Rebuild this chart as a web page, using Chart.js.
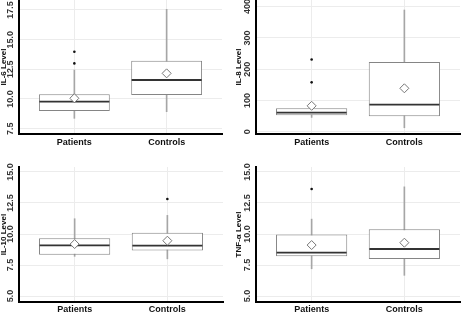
<!DOCTYPE html>
<html>
<head>
<meta charset="utf-8">
<script src="https://cdn.jsdelivr.net/npm/chart.js@4/dist/chart.umd.min.js"></script>
<style>
    html, body { margin: 0; padding: 0; background: #fff; }
    #wrap { position: relative; width: 464px; height: 316px; }
    .panel { position: absolute; width: 232px; height: 158px; }
</style>
</head>
<body>
<div id="wrap">
    <div class="panel" style="left:0;top:0"><canvas id="il6" width="232" height="158"></canvas></div>
    <div class="panel" style="left:232px;top:0"><canvas id="il8" width="232" height="158"></canvas></div>
    <div class="panel" style="left:0;top:158px"><canvas id="il10" width="232" height="158"></canvas></div>
    <div class="panel" style="left:232px;top:158px"><canvas id="tnf" width="232" height="158"></canvas></div>
</div>
<script>
var categories = ['Patients', 'Controls'];

// IL-6
var il6Low = [8.37, 8.93];
var il6Q1 = [8.99, 10.34];
var il6Median = [9.77, 11.6];
var il6Q3 = [10.4, 13.23];
var il6High = [12.44, 17.55];
var il6Mean = [10.06, 12.16];
var il6OutlierGroup = ['Patients', 'Patients'];
var il6OutlierValue = [13.0, 13.98];
var il6Ticks = ['7.5', '10.0', '12.5', '15.0', '17.5'];

// IL-8
var il8Low = [46, 13];
var il8Q1 = [53, 50];
var il8Median = [61, 87];
var il8Q3 = [75, 223];
var il8High = [85, 389];
var il8Mean = [83, 139];
var il8OutlierGroup = ['Patients', 'Patients'];
var il8OutlierValue = [158, 231];
var il8Ticks = ['0', '100', '200', '300', '400'];

// IL-10
var il10Low = [8.2, 8.0];
var il10Q1 = [8.33, 8.68];
var il10Median = [9.09, 9.06];
var il10Q3 = [9.65, 10.1];
var il10High = [11.23, 11.5];
var il10Mean = [9.19, 9.46];
var il10OutlierGroup = ['Controls'];
var il10OutlierValue = [12.82];
var il10Ticks = ['5.0', '7.5', '10.0', '12.5', '15.0'];

// TNF-a
var tnfLow = [7.2, 6.67];
var tnfQ1 = [8.2, 7.98];
var tnfMedian = [8.5, 8.79];
var tnfQ3 = [9.97, 10.38];
var tnfHigh = [11.2, 13.8];
var tnfMean = [9.11, 9.3];
var tnfOutlierGroup = ['Patients'];
var tnfOutlierValue = [13.63];
var tnfTicks = ['5.0', '7.5', '10.0', '12.5', '15.0'];

Chart.defaults.font.family = '"Liberation Sans", Arial, sans-serif';

/**
 * Draws the y tick labels turned a quarter, reading upwards.
 */
var rotatedTicks = {
    id: 'rotatedTicks',
    afterDraw: function(chart, args, options) {
        var scale = chart.scales.y,
            ctx = chart.ctx;

        ctx.save();
        ctx.font = 'bold 9px "Liberation Sans", Arial, sans-serif';
        ctx.fillStyle = '#333';
        ctx.textAlign = 'center';
        ctx.textBaseline = 'middle';
        scale.ticks.forEach(function(tick, i) {
            ctx.save();
            ctx.translate(chart.chartArea.left - 8, scale.getPixelForValue(tick.value));
            ctx.rotate(-Math.PI / 2);
            ctx.fillText(options.labels[i], 0, 0);
            ctx.restore();
        });
        ctx.restore();
    }
};

function points(values) {
    return values.map(function(v, i) { return {x: i + 1, y: v}; });
}

function ranges(from, to) {
    return from.map(function(v, i) { return {x: i + 1, y: [v, to[i]]}; });
}

/**
 * One box plot panel.
 */
function boxPanel(id, s) {
    var outliers = s.outGroup.map(function(g, i) {
        return {x: categories.indexOf(g) + 1, y: s.outValue[i]};
    });

    return new Chart(document.getElementById(id), {
        type: 'bar',
        data: {
            datasets: [{
                data: ranges(s.low, s.high),
                backgroundColor: '#a6a6a6',
                barThickness: 1,
                grouped: false,
                order: 5
            }, {
                data: ranges(s.q1, s.q3),
                backgroundColor: '#fff',
                borderColor: '#858585',
                borderWidth: 1,
                borderSkipped: false,
                categoryPercentage: 0.8,
                barPercentage: 0.96,
                grouped: false,
                order: 4
            }, {
                type: 'line',
                data: points(s.median),
                showLine: false,
                pointStyle: 'line',
                pointRadius: 35,
                pointBorderColor: '#333',
                pointBorderWidth: 1.8,
                order: 3
            }, {
                type: 'line',
                data: points(s.mean),
                showLine: false,
                pointStyle: 'rectRot',
                pointRadius: 4.5,
                pointBackgroundColor: '#fff',
                pointBorderColor: '#777',
                pointBorderWidth: 1,
                order: 2
            }, {
                type: 'line',
                data: outliers,
                showLine: false,
                pointStyle: 'circle',
                pointRadius: 1.3,
                pointBackgroundColor: '#111',
                pointBorderColor: '#111',
                pointBorderWidth: 0,
                order: 1
            }]
        },
        options: {
            responsive: false,
            animation: false,
            events: [],
            layout: {padding: s.padding, autoPadding: false},
            plugins: {
                legend: {display: false},
                tooltip: {enabled: false},
                rotatedTicks: {labels: s.ticks}
            },
            scales: {
                x: {
                    type: 'linear',
                    min: 0.4,
                    max: 2.6,
                    offset: false,
                    afterBuildTicks: function(scale) {
                        scale.ticks = categories.map(function(c, i) { return {value: i + 1}; });
                    },
                    afterFit: function(scale) { scale.height = s.xHeight; },
                    grid: {color: '#ececec', offset: false, drawTicks: false},
                    border: {color: '#000', width: 2},
                    ticks: {
                        padding: s.xPad,
                        color: '#111',
                        font: {size: 9, weight: 'bold'},
                        callback: function(v) { return categories[v - 1]; }
                    }
                },
                y: {
                    type: 'linear',
                    min: s.min,
                    max: s.max,
                    afterBuildTicks: function(scale) {
                        scale.ticks = s.ticks.map(function(t) { return {value: parseFloat(t)}; });
                    },
                    afterFit: function(scale) { scale.width = s.yWidth; },
                    grid: {color: '#ececec', drawTicks: false},
                    border: {color: '#000', width: 2},
                    ticks: {display: false},
                    title: {
                        display: true,
                        text: s.title,
                        color: '#111',
                        padding: 0,
                        font: {size: 8, weight: 'bold', lineHeight: 1}
                    }
                }
            }
        },
        plugins: [rotatedTicks]
    });
}

boxPanel('il6', {
    title: 'IL-6 Level', low: il6Low, q1: il6Q1, median: il6Median, q3: il6Q3, high: il6High,
    mean: il6Mean, outGroup: il6OutlierGroup, outValue: il6OutlierValue, ticks: il6Ticks,
    min: 7.05, max: 18.34,
    padding: {left: 0, right: 10, top: 0, bottom: 0}, yWidth: 19, xHeight: 24, xPad: 3
});

boxPanel('il8', {
    title: 'IL-8 Level', low: il8Low, q1: il8Q1, median: il8Median, q3: il8Q3, high: il8High,
    mean: il8Mean, outGroup: il8OutlierGroup, outValue: il8OutlierValue, ticks: il8Ticks,
    min: -7, max: 421,
    padding: {left: 3, right: 4, top: 0, bottom: 0}, yWidth: 21, xHeight: 24, xPad: 3
});

boxPanel('il10', {
    title: 'IL-10 Level', low: il10Low, q1: il10Q1, median: il10Median, q3: il10Q3, high: il10High,
    mean: il10Mean, outGroup: il10OutlierGroup, outValue: il10OutlierValue, ticks: il10Ticks,
    min: 4.52, max: 15.4,
    padding: {left: 0, right: 9, top: 9, bottom: 0}, yWidth: 19, xHeight: 14, xPad: 2
});

boxPanel('tnf', {
    title: 'TNF-α Level', low: tnfLow, q1: tnfQ1, median: tnfMedian, q3: tnfQ3, high: tnfHigh,
    mean: tnfMean, outGroup: tnfOutlierGroup, outValue: tnfOutlierValue, ticks: tnfTicks,
    min: 4.52, max: 15.4,
    padding: {left: 3, right: 4, top: 9, bottom: 0}, yWidth: 21, xHeight: 14, xPad: 2
});
</script>
</body>
</html>
